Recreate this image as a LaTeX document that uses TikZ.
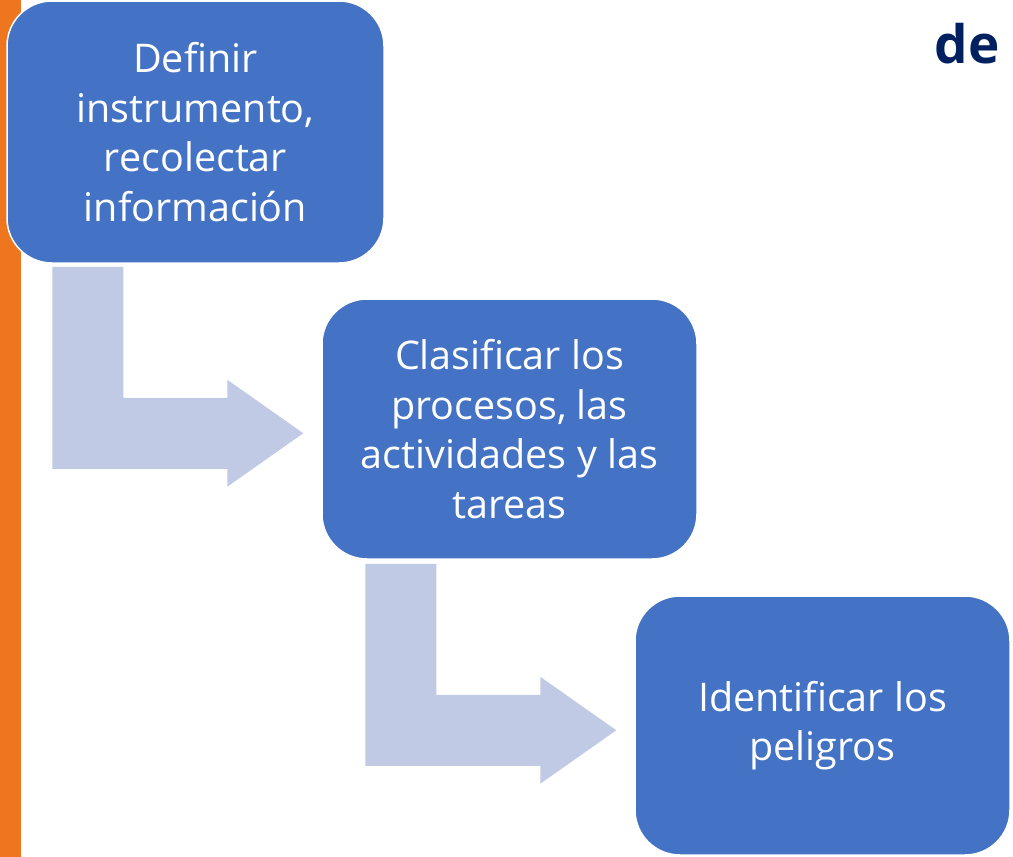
\documentclass[tikz,border=0pt]{standalone}
\usepackage{fontspec}
\setmainfont{Open Sans}[Ligatures=NoCommon]
\usetikzlibrary{calc}
\definecolor{boxblue}{HTML}{4472C4}
\definecolor{arrowblue}{HTML}{C0CAE4}
\definecolor{barorange}{HTML}{EE761F}
\definecolor{navy}{HTML}{002060}
\tikzset{
  stepbox/.style={rectangle, rounded corners=45pt, fill=boxblue, draw=white, line width=1.5pt,
    text=white, align=center, font=\fontsize{39.5}{49.5}\selectfont, inner sep=0pt},
  bentarrow/.pic={
    \fill[arrowblue] (0,0) -- (71,0) -- (71,131) -- (175,131) -- (175,113) -- (251,166.5)
      -- (175,220) -- (175,202) -- (0,202) -- cycle;
  }
}
\begin{document}
\begin{tikzpicture}[x=1pt,y=-1pt]
\useasboundingbox (0,0) rectangle (1013,857);
\fill[barorange] (0,0) rectangle (21,857);
\node[stepbox, minimum width=377pt, minimum height=262pt] (b1) at (195.5,132)
  {Definir\\instrumento,\\recolectar\\información};
\node[stepbox, minimum width=375pt, minimum height=260pt] (b2) at (509.5,429)
  {Clasificar los\\procesos, las\\actividades y las\\tareas};
\node[stepbox, minimum width=375pt, minimum height=259pt] (b3) at (822.5,725.5)
  {Identificar los\\peligros};
\path ($(b1.south west)+(46,3)$) pic {bentarrow};
\path ($(b2.south west)+(44,4)$) pic {bentarrow};
\node[anchor=base east, text=navy, font=\bfseries\fontsize{53}{60}\selectfont, inner sep=0pt] (de) at (1000,63) {de};
\end{tikzpicture}
\end{document}
